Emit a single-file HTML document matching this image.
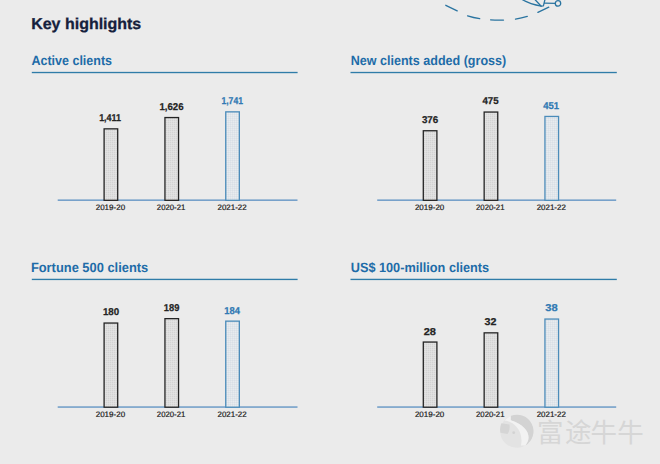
<!DOCTYPE html>
<html><head><meta charset="utf-8"><title>Key highlights</title>
<style>html,body{margin:0;padding:0;background:#ebebeb;}body{position:relative;width:660px;height:464px;overflow:hidden;font-family:"Liberation Sans",sans-serif;}svg{display:block;position:absolute;left:0;top:0;}.t{position:absolute;display:block;margin:0;padding:0;white-space:nowrap;transform-origin:0 0;text-rendering:geometricPrecision;font-family:"Liberation Sans",sans-serif;font-weight:700;}.h{font-size:15.6px;line-height:17px;color:#15203c;-webkit-text-stroke:0.3px #15203c;}.ti{font-size:13.4px;line-height:15px;color:#1e6ca8;}.v{font-size:9.9px;line-height:11px;color:#242424;-webkit-text-stroke:0.25px #242424;}.v.b{color:#3079b3;-webkit-text-stroke-color:#3079b3;}.y{font-size:7.9px;line-height:9px;font-weight:400;color:#1c1c1c;-webkit-text-stroke:0.2px #1c1c1c;}</style>
</head><body>
<svg width="660" height="464" viewBox="0 0 660 464">
<rect width="660" height="464" fill="#ebebeb"/>
<defs>
<pattern id="pg" width="2" height="2" patternUnits="userSpaceOnUse"><rect width="2" height="2" fill="#dedede"/><rect width="1" height="1" fill="#d3d3d3"/><rect x="1" y="1" width="1" height="1" fill="#e3e3e3"/></pattern>
<pattern id="pb" width="2" height="2" patternUnits="userSpaceOnUse"><rect width="2" height="2" fill="#e0e5ea"/><rect width="1" height="1" fill="#d9dfe6"/><rect x="1" y="1" width="1" height="1" fill="#e8ecef"/></pattern>
</defs>
<g fill="none" stroke="#2a74a0" stroke-width="1.3" stroke-linecap="round" stroke-linejoin="round">
<path d="M445.8 5.3L457.2 10.9"/>
<path d="M467.6 15.8Q473.5 17.6 479.7 18.7"/>
<path d="M490.6 19.9Q497 20.3 503.5 20.1"/>
<path d="M515.5 19.1Q521.5 18 527.3 16.4"/>
<path d="M537.9 12.4L548.8 7.2"/>
<path d="M522.0 -0.6Q530.5 4.6 541.2 6.2"/>
<path d="M534.8 -0.6L541.2 6.2L543.4 5.8L545.0 -0.6"/>
<path d="M544.6 3.2L555.2 3.4"/>
<circle cx="558" cy="3.4" r="2.7"/>
</g>
<!-- Active clients -->
<rect x="31.8" y="71.85" width="265.8" height="1.35" fill="#2f7ca8"/>
<rect x="57.7" y="199.50" width="239.8" height="1.3" fill="#5b90c2"/>
<rect x="104.10" y="128.85" width="13.60" height="71.45" fill="url(#pg)" stroke="#242424" stroke-width="1.3"/>
<rect x="164.95" y="117.55" width="13.60" height="82.75" fill="url(#pg)" stroke="#242424" stroke-width="1.3"/>
<rect x="225.75" y="111.85" width="13.60" height="88.45" fill="url(#pb)" stroke="#4b8cba" stroke-width="1.3"/>
<!-- New clients added (gross) -->
<rect x="350.5" y="71.85" width="266.3" height="1.35" fill="#2f7ca8"/>
<rect x="377.2" y="199.50" width="239.0" height="1.3" fill="#5b90c2"/>
<rect x="423.30" y="130.75" width="13.60" height="69.55" fill="url(#pg)" stroke="#242424" stroke-width="1.3"/>
<rect x="484.15" y="112.05" width="13.60" height="88.25" fill="url(#pg)" stroke="#242424" stroke-width="1.3"/>
<rect x="544.95" y="116.45" width="13.60" height="83.85" fill="url(#pb)" stroke="#4b8cba" stroke-width="1.3"/>
<!-- Fortune 500 clients -->
<rect x="31.8" y="278.75" width="265.8" height="1.35" fill="#2f7ca8"/>
<rect x="57.7" y="406.40" width="239.8" height="1.3" fill="#5b90c2"/>
<rect x="104.10" y="323.05" width="13.60" height="84.15" fill="url(#pg)" stroke="#242424" stroke-width="1.3"/>
<rect x="164.95" y="318.65" width="13.60" height="88.55" fill="url(#pg)" stroke="#242424" stroke-width="1.3"/>
<rect x="225.75" y="321.15" width="13.60" height="86.05" fill="url(#pb)" stroke="#4b8cba" stroke-width="1.3"/>
<!-- US$ 100-million clients -->
<rect x="350.5" y="278.75" width="266.3" height="1.35" fill="#2f7ca8"/>
<rect x="377.2" y="406.40" width="239.0" height="1.3" fill="#5b90c2"/>
<rect x="423.30" y="342.05" width="13.60" height="65.15" fill="url(#pg)" stroke="#242424" stroke-width="1.3"/>
<rect x="484.15" y="332.85" width="13.60" height="74.35" fill="url(#pg)" stroke="#242424" stroke-width="1.3"/>
<rect x="544.95" y="319.05" width="13.60" height="88.15" fill="url(#pb)" stroke="#4b8cba" stroke-width="1.3"/>
<g>
<circle cx="516.7" cy="431.4" r="16.4" fill="#e3e3e3"/>
<path d="M510.7 416.1A16.4 16.4 0 0 1 525.3 445.4C532 438 529 426 510.7 420.2Z" fill="#d3d3d3"/>
<path d="M504.6 420.6C513 421 524 430 521 445.6L525.3 445.4C532 438 529 426 510.7 420.2L510.7 416.1A16.4 16.4 0 0 0 504.6 420.6Z" fill="#f2f2f2"/>
<path d="M501.4 423.2L509.5 424.6Q510.3 430 507.6 434L500.4 432.8A16.4 16.4 0 0 1 501.4 423.2Z" fill="#d5d5d5"/>
<circle cx="513.7" cy="432.7" r="1.4" fill="#d2d2d2"/>
</g>
<text x="537.1 565.1 590.6 617.2" y="441.5" font-size="26.5" fill="#d6d6d6" font-family="'Liberation Sans','Noto Sans CJK SC',sans-serif">富途牛牛</text>
</svg>
<h1 class="t h" style="left:31px;top:16px;transform:translateX(0.19px) scaleX(1.0246)">Key highlights</h1>
<h2 class="t ti" style="left:31px;top:53px;transform:translateX(0.40px) scaleX(0.9342)">Active clients</h2>
<span class="t v" style="left:99px;top:113px;transform:translateX(0.13px) scaleX(0.9071)">1,411</span>
<span class="t y" style="left:95px;top:203px;transform:translateX(0.69px) scaleX(1.0156)">2019-20</span>
<span class="t v" style="left:159px;top:102px;transform:translateX(0.42px) scaleX(0.9787)">1,626</span>
<span class="t y" style="left:156px;top:203px;transform:translateX(0.83px) scaleX(0.9831)">2020-21</span>
<span class="t v b" style="left:221px;top:96px;transform:translateX(0.48px) scaleX(0.8668)">1,741</span>
<span class="t y" style="left:217px;top:203px;transform:translateX(0.48px) scaleX(1.0076)">2021-22</span>
<h2 class="t ti" style="left:350px;top:53px;transform:translateX(0.74px) scaleX(0.9369)">New clients added (gross)</h2>
<span class="t v" style="left:421px;top:115px;transform:translateX(0.89px) scaleX(0.9932)">376</span>
<span class="t y" style="left:414px;top:203px;transform:translateX(0.89px) scaleX(1.0156)">2019-20</span>
<span class="t v" style="left:482px;top:96px;transform:translateX(0.45px) scaleX(0.9771)">475</span>
<span class="t y" style="left:476px;top:203px;transform:translateX(0.03px) scaleX(0.9831)">2020-21</span>
<span class="t v b" style="left:543px;top:101px;transform:translateX(0.29px) scaleX(0.9562)">451</span>
<span class="t y" style="left:536px;top:203px;transform:translateX(0.68px) scaleX(1.0076)">2021-22</span>
<h2 class="t ti" style="left:30px;top:260px;transform:translateX(0.89px) scaleX(0.9612)">Fortune 500 clients</h2>
<span class="t v" style="left:102px;top:307px;transform:translateX(0.90px) scaleX(0.9839)">180</span>
<span class="t y" style="left:95px;top:410px;transform:translateX(0.69px) scaleX(1.0156)">2019-20</span>
<span class="t v" style="left:163px;top:303px;transform:translateX(0.83px) scaleX(0.9455)">189</span>
<span class="t y" style="left:156px;top:410px;transform:translateX(0.83px) scaleX(0.9831)">2020-21</span>
<span class="t v b" style="left:224px;top:306px;transform:translateX(0.33px) scaleX(0.9509)">184</span>
<span class="t y" style="left:217px;top:410px;transform:translateX(0.48px) scaleX(1.0076)">2021-22</span>
<h2 class="t ti" style="left:350px;top:260px;transform:translateX(0.74px) scaleX(0.9489)">US$ 100-million clients</h2>
<span class="t v" style="left:423px;top:327px;transform:translateX(0.73px) scaleX(1.1150)">28</span>
<span class="t y" style="left:414px;top:410px;transform:translateX(0.89px) scaleX(1.0156)">2019-20</span>
<span class="t v" style="left:484px;top:317px;transform:translateX(0.59px) scaleX(1.0816)">32</span>
<span class="t y" style="left:476px;top:410px;transform:translateX(0.03px) scaleX(0.9831)">2020-21</span>
<span class="t v b" style="left:545px;top:303px;transform:translateX(0.24px) scaleX(1.1270)">38</span>
<span class="t y" style="left:536px;top:410px;transform:translateX(0.68px) scaleX(1.0076)">2021-22</span>
</body></html>
